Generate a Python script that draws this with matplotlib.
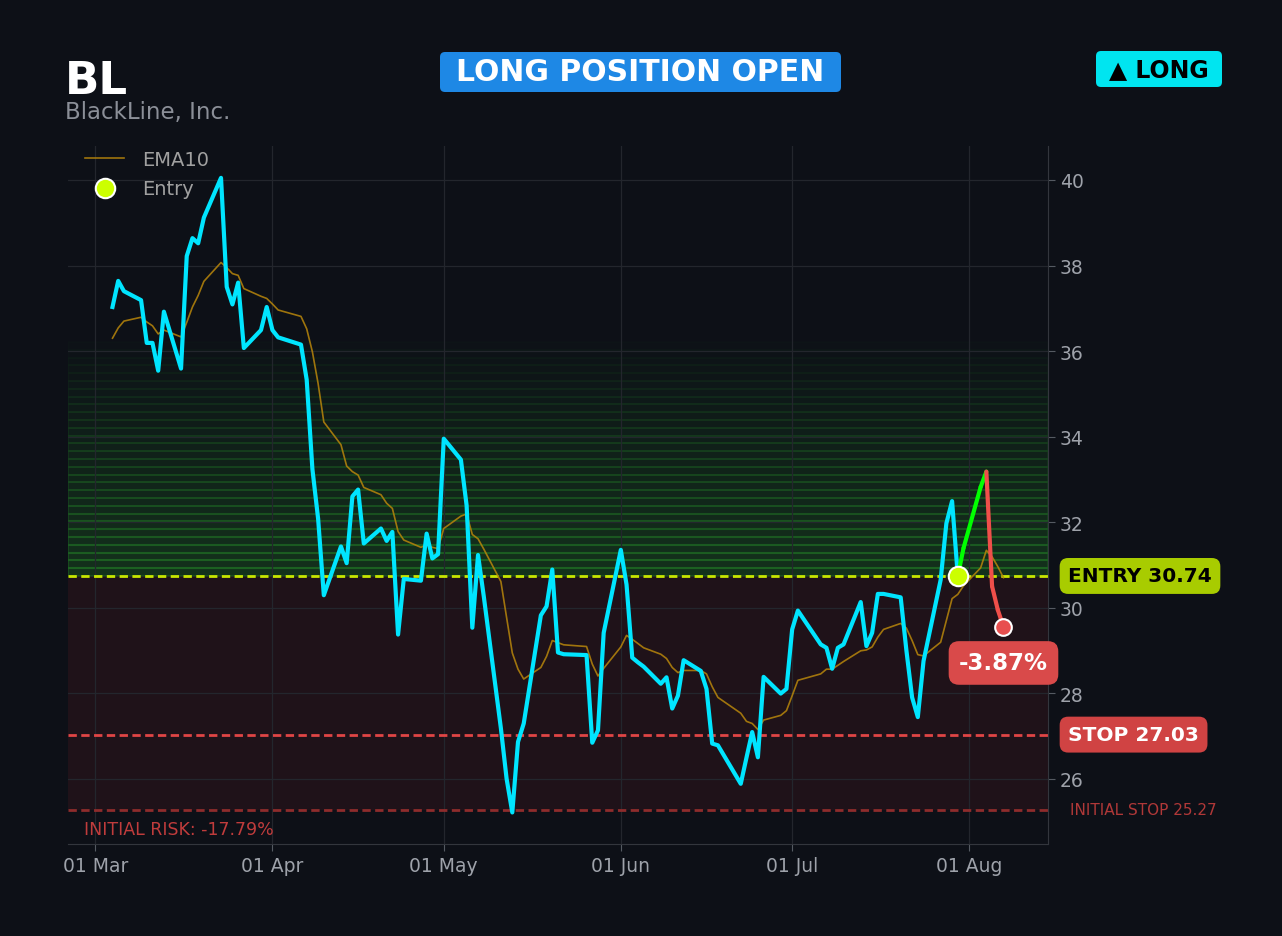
import matplotlib
matplotlib.use('Agg')
import matplotlib.pyplot as plt
import matplotlib.dates as mdates
from matplotlib.patches import FancyBboxPatch
from matplotlib.ticker import MultipleLocator
import pandas as pd

ticker = 'BL'
company = 'BlackLine, Inc.'

mar = [4, 5, 6, 9, 10, 11, 12, 13, 16, 17, 18, 19, 20, 23, 24, 25, 26, 27, 30, 31]
apr = [1, 2, 6, 7, 8, 9, 10, 13, 14, 15, 16, 17, 20, 21, 22, 23, 24, 27, 28, 29, 30]
may = [1, 4, 5, 6, 7, 8, 11, 12, 13, 14, 15, 18, 19, 20, 21, 22, 26, 27, 28, 29]
jun = [1, 2, 3, 4, 5, 8, 9, 10, 11, 12, 15, 16, 17, 18, 22, 23, 24, 25, 26, 29, 30]
jul = [1, 2, 6, 7, 8, 9, 10, 13, 14, 15, 16, 17, 20, 21, 22, 23, 24, 27, 28, 29, 30, 31]
aug = [3, 4, 5, 6, 7]

close = [
    37.03, 37.64, 37.40, 37.19, 36.19, 36.19, 35.54, 36.92, 35.59, 38.22,
    38.64, 38.52, 39.12, 40.05, 37.50, 37.09, 37.60, 36.07, 36.49, 37.03,
    36.49, 36.32, 36.15, 35.33, 33.24, 32.08, 30.29, 31.43, 31.04, 32.60,
    32.76, 31.50, 31.85, 31.56, 31.77, 29.37, 30.67, 30.63, 31.73, 31.15, 31.25,
    33.95, 33.46, 32.39, 29.53, 31.23, 30.27, 27.18, 26.00, 25.21, 26.86,
    27.29, 29.82, 30.03, 30.89, 28.95, 28.91, 28.89, 26.84, 27.13, 29.41,
    31.35, 30.54, 28.83, 28.72, 28.62, 28.22, 28.37, 27.64, 27.94, 28.77,
    28.52, 28.10, 26.82, 26.78, 25.88, 26.49, 27.09, 26.50, 28.38, 27.99, 28.10,
    29.49, 29.93, 29.14, 29.06, 28.57, 29.06, 29.14, 30.13, 29.10, 29.41,
    30.32, 30.32, 30.24, 29.00, 27.90, 27.44, 28.75, 30.65, 31.97, 32.49, 30.74, 31.39,
    32.82, 33.18, 30.50, 29.95, 29.55,
]

ema10 = [
    36.30, 36.54, 36.70, 36.79, 36.68, 36.59, 36.40, 36.49, 36.33, 36.67,
    37.03, 37.30, 37.63, 38.07, 37.95, 37.81, 37.77, 37.46, 37.28, 37.23,
    37.10, 36.96, 36.81, 36.52, 35.98, 35.24, 34.34, 33.81, 33.31, 33.18,
    33.10, 32.81, 32.64, 32.44, 32.32, 31.78, 31.58, 31.41, 31.47, 31.41, 31.38,
    31.85, 32.14, 32.19, 31.71, 31.61, 31.37, 30.61, 29.77, 28.94, 28.56,
    28.33, 28.60, 28.86, 29.23, 29.18, 29.13, 29.09, 28.68, 28.40, 28.58,
    29.08, 29.35, 29.26, 29.16, 29.06, 28.91, 28.81, 28.60, 28.48, 28.53,
    28.53, 28.45, 28.15, 27.90, 27.53, 27.34, 27.29, 27.15, 27.37, 27.48, 27.59,
    27.94, 28.30, 28.45, 28.56, 28.56, 28.65, 28.74, 28.99, 29.01, 29.08,
    29.31, 29.49, 29.63, 29.52, 29.23, 28.90, 28.87, 29.19, 29.70, 30.21, 30.31, 30.51,
    30.93, 31.34, 31.19, 30.96, 30.70,
]

entry_date = '2026-07-30'
entry_price = 30.74
stop_price = 27.03
initial_stop = 25.27
target_price = 36.21

dates = []
for month, days in zip([3, 4, 5, 6, 7, 8], [mar, apr, may, jun, jul, aug]):
    for d in days:
        dates.append(pd.Timestamp(2026, month, d))

bg = '#0d1017'
cyan = '#00e5ff'
ema_col = '#b8860b'
lime = '#ccff00'

plt.rcParams['font.family'] = ['DejaVu Sans']
fig = plt.figure(figsize=(12.82, 9.37), dpi=100, facecolor=bg)
ax = fig.add_axes([0.053, 0.098, 0.7645, 0.745], facecolor=bg)

entry_idx = dates.index(pd.Timestamp(entry_date))
last_price = close[-1]
pnl = (last_price / entry_price - 1) * 100
risk = (initial_stop / entry_price - 1) * 100

# zones
ax.axhspan(initial_stop, entry_price, color='#ff3333', alpha=0.08, lw=0)
n_bands = 30
step = (target_price - entry_price) / n_bands
for i in range(n_bands):
    a = 0.17 * (1 - i / n_bands) + 0.005
    ax.axhspan(entry_price + i * step, entry_price + (i + 1) * step,
               color='#32cd32', alpha=a, lw=1.5)

ax.axhline(entry_price, color='#c8e600', lw=2, ls=(0, (3, 1.6)), zorder=3)
ax.axhline(stop_price, color='#e04545', lw=2, ls=(0, (3, 1.6)), zorder=3)
ax.axhline(initial_stop, color='#8e2c2c', lw=2, ls=(0, (3, 1.6)), zorder=3)

ax.plot(dates, ema10, color=ema_col, lw=1.2, alpha=0.85, label='EMA10', zorder=4)
ax.plot(dates[:entry_idx + 1], close[:entry_idx + 1], color=cyan, lw=3, zorder=5)
for i in range(entry_idx, len(close) - 1):
    c = '#00ff00' if close[i + 1] >= close[i] else '#ef4f4a'
    ax.plot(dates[i:i + 2], close[i:i + 2], color=c, lw=3, zorder=5,
            solid_capstyle='round')

ax.plot([dates[entry_idx]], [entry_price], 'o', ms=14, color=lime, mec='white',
        mew=1.5, zorder=7, label='Entry', linestyle='none')
ax.plot([dates[-1]], [last_price], 'o', ms=12, color='#e84f4f', mec='white',
        mew=1.5, zorder=7)

ax.annotate(f'{pnl:.2f}%', xy=(dates[-1], last_price), xytext=(0, -26),
            textcoords='offset points', ha='center', va='center',
            fontsize=16.5, fontweight='bold', color='white', zorder=8,
            bbox=dict(boxstyle='round,pad=0.45', fc='#d94a4a', ec='none'))

ax.annotate(f'ENTRY {entry_price:.2f}', xy=(1.0205, entry_price),
            xycoords=('axes fraction', 'data'), ha='left', va='center',
            fontsize=14.5, fontweight='bold', color='black', annotation_clip=False,
            bbox=dict(boxstyle='round,pad=0.42', fc='#a8cc00', ec='none'))
ax.annotate(f'STOP {stop_price:.2f}', xy=(1.0205, stop_price),
            xycoords=('axes fraction', 'data'), ha='left', va='center',
            fontsize=14.5, fontweight='bold', color='white', annotation_clip=False,
            bbox=dict(boxstyle='round,pad=0.42', fc='#d04343', ec='none'))
ax.annotate(f'INITIAL STOP {initial_stop:.2f}', xy=(1.022, initial_stop),
            xycoords=('axes fraction', 'data'), ha='left', va='center',
            fontsize=11, color='#b03838', annotation_clip=False)
ax.text(0.016, 0.022, f'INITIAL RISK: {risk:.2f}%', transform=ax.transAxes,
        fontsize=12.5, color='#c03c3c', va='center', ha='left')

# axes styling
ax.yaxis.tick_right()
ax.yaxis.set_major_locator(MultipleLocator(2))
ax.xaxis.set_major_locator(mdates.MonthLocator())
ax.xaxis.set_major_formatter(mdates.DateFormatter('%d %b'))
ax.tick_params(colors='#9ea2aa', labelsize=13.5, length=5, color='#555a62')
ax.grid(True, color='#23262d', lw=0.9)
for s in ['left', 'top']:
    ax.spines[s].set_visible(False)
for s in ['right', 'bottom']:
    ax.spines[s].set_color('#33363d')

leg = ax.legend(loc='upper left', bbox_to_anchor=(0.0, 1.02), frameon=False,
                fontsize=14, labelcolor='#a0a0a0', handlelength=2.0,
                labelspacing=0.55, handletextpad=0.9)

# header
inch = fig.dpi_scale_trans
fig.text(0.0507, 0.9, ticker, fontsize=32.5, fontweight='bold', color='white')
fig.text(0.0507, 0.8735, company, fontsize=16.5, color='#8b8f98')

fig.patches.append(FancyBboxPatch((4.40, 8.44), 4.01, 0.40, transform=inch,
                                  boxstyle='round,pad=0,rounding_size=0.05',
                                  fc='#1e88e5', ec='none', figure=fig))
fig.text(6.405, 8.64, 'LONG POSITION OPEN', transform=inch, fontsize=21.5,
         fontweight='bold', color='white', ha='center', va='center')

fig.patches.append(FancyBboxPatch((10.96, 8.49), 1.26, 0.36, transform=inch,
                                  boxstyle='round,pad=0,rounding_size=0.05',
                                  fc='#00e5f0', ec='none', figure=fig))
fig.text(11.59, 8.67, '\u25b2 LONG', transform=inch, fontsize=17,
         fontweight='bold', color='black', ha='center', va='center')

fig.savefig('out.png', dpi=100, facecolor=bg)
